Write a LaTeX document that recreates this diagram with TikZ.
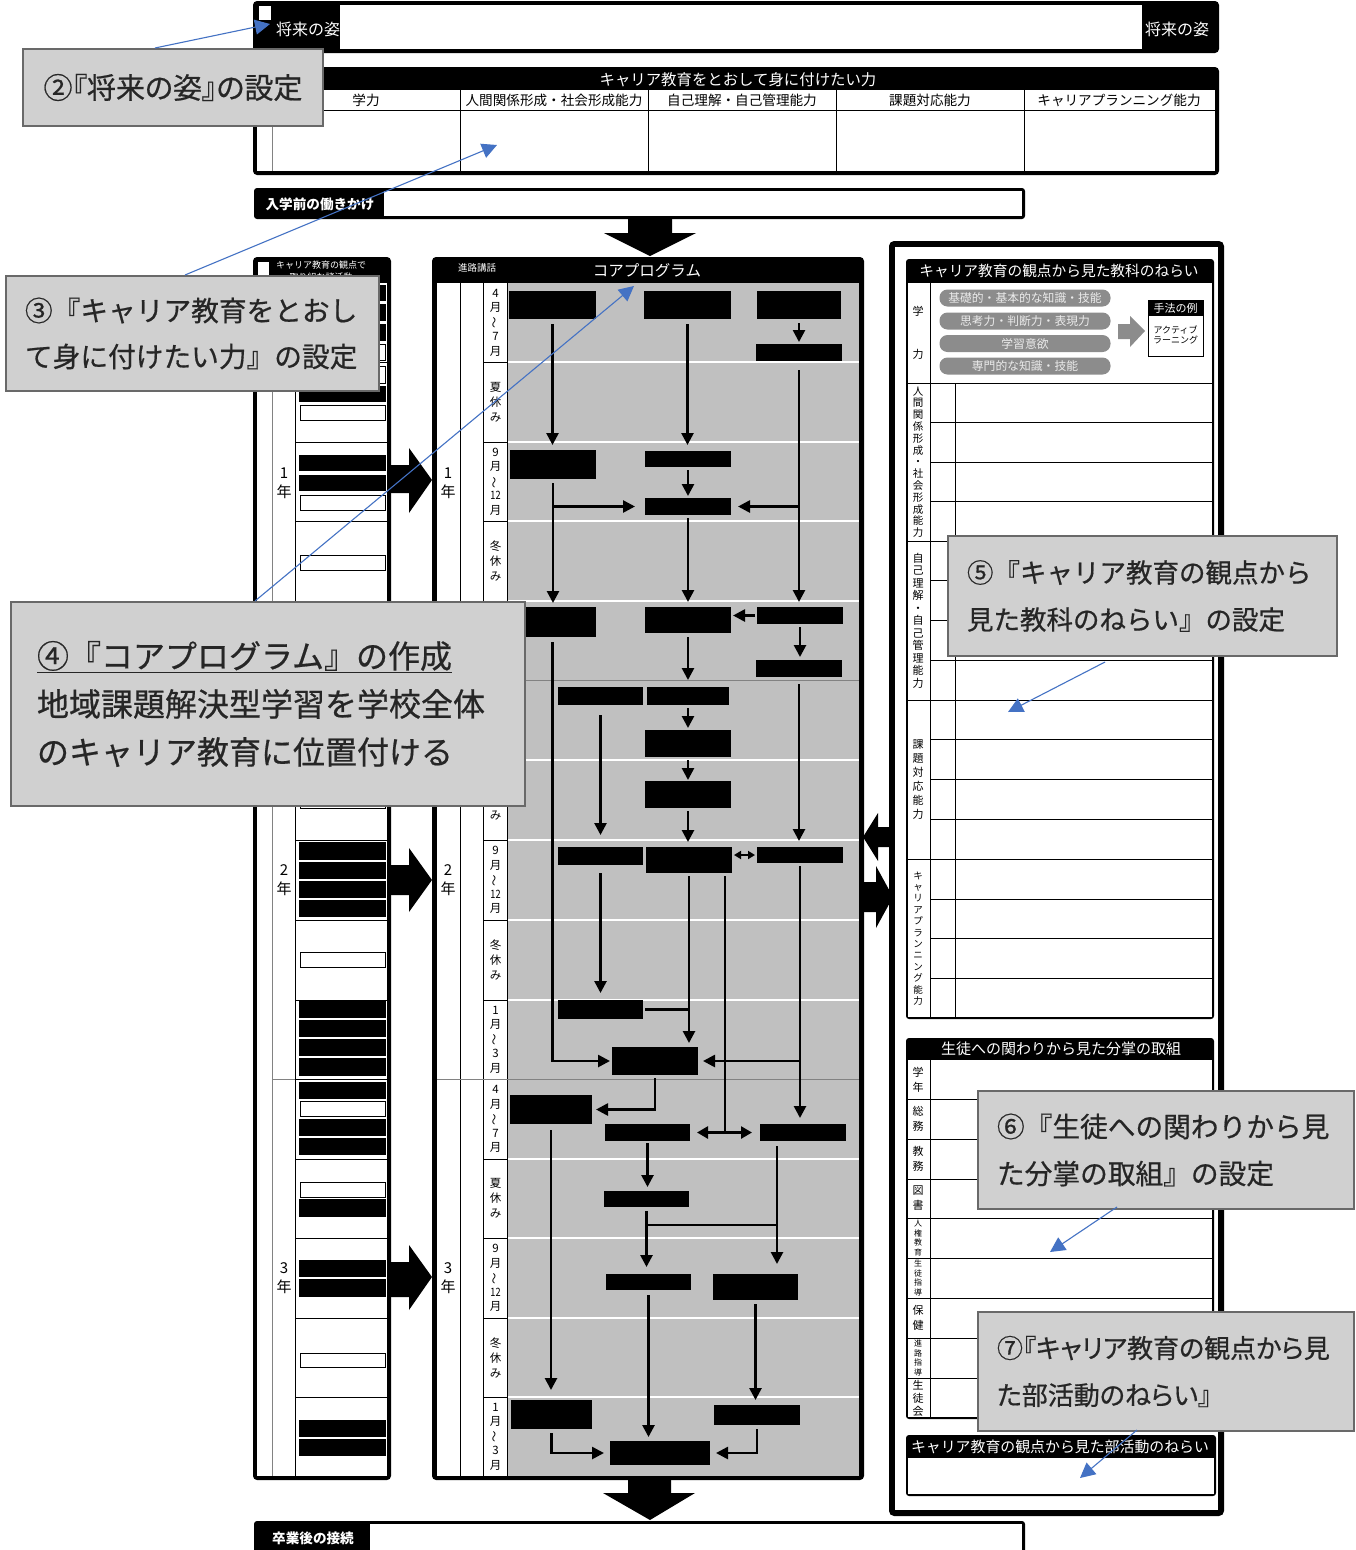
\documentclass[tikz,border=0pt]{standalone}
\usepackage{fontspec}
\usepackage{graphicx}
\setmainfont{Noto Sans CJK JP}
\newfontfamily\callfont{Noto Sans CJK JP}[FakeBold=0.6]
\newfontfamily\callpalt{Noto Sans CJK JP}[RawFeature=+palt, FakeBold=0.6]
\usetikzlibrary{arrows.meta,calc,fit}
\definecolor{coregray}{RGB}{192,192,192}
\definecolor{callgray}{RGB}{208,208,208}
\definecolor{callborder}{RGB}{105,105,105}
\definecolor{pillgray}{RGB}{140,140,140}
\definecolor{blueln}{RGB}{68,114,196}
\definecolor{yrline}{RGB}{130,130,130}
\makeatletter
\newcommand\vst[3]{\vbox{\fontsize{#1}{#2}\selectfont\baselineskip=#2\relax\lineskiplimit=-100pt\relax\lineskip=0pt\relax\@tfor\vs@c:=#3\do{\hbox to 16pt{\hss\vs@c\hss}}}}
\makeatother
\newcommand\wvd{\rotatebox[origin=c]{90}{～}}
\newcommand\moA{\vst{11.5pt}{14.5pt}{4月{\wvd}7月}}
\newcommand\moB{\vst{11.5pt}{15pt}{夏休み}}
\newcommand\moC{\vst{11.5pt}{14.5pt}{9月{\wvd}{\scalebox{.8}[1]{12}}月}}
\newcommand\moD{\vst{11.5pt}{15pt}{冬休み}}
\newcommand\moE{\vst{11.5pt}{14.5pt}{1月{\wvd}3月}}
\tikzset{
 fb/.style={fill=black, inner sep=0pt, outer sep=0pt, draw=none},
 flow/.style={line width=2.6pt, -{Triangle[length=12pt,width=12pt]}},
 fline/.style={line width=2.6pt},
 dflow/.style={line width=2pt, {Triangle[length=7pt,width=8pt]}-{Triangle[length=7pt,width=8pt]}},
 dflowb/.style={line width=2.6pt, {Triangle[length=11pt,width=12pt]}-{Triangle[length=11pt,width=12pt]}},
 wt/.style={text=white, inner sep=0pt},
 bt/.style={text=black, inner sep=0pt},
 thinl/.style={line width=0.9pt},
 callout/.style={fill=callgray, draw=callborder, line width=2pt, anchor=north west, inner ysep=0pt, text=black!85},
 bluearr/.style={draw=blueln, line width=1.1pt, -{Triangle[length=15pt,width=15pt]}},
 pill/.style={fill=pillgray, rounded corners=8pt, minimum width=171pt, minimum height=17pt, inner sep=0pt, text=white!92!black, font=\fontsize{11.8pt}{13pt}\selectfont},
}
\begin{document}
\begin{tikzpicture}[x=1pt,y=-1pt]
\useasboundingbox (0,0) rectangle (1356,1550);
\fill[white] (0,0) rectangle (1356,1550);

% ---------- top box: future image
\fill[rounded corners=4pt] (253,1) rectangle (1219,53);
\fill[white] (340,5) rectangle (1142,49);
\fill[white] (259,6) rectangle (271,20);
\node[wt, font=\fontsize{16pt}{18pt}\selectfont] (fs1) at (308,29) {将来の姿};
\node[wt, font=\fontsize{16pt}{18pt}\selectfont] (fs2) at (1177,29) {将来の姿};

% ---------- top box 2: abilities
\fill[rounded corners=4pt] (253,67) rectangle (1219,175);
\fill[white] (257,90) rectangle (1215,171);
\node[wt, font=\fontsize{15.4pt}{17pt}\selectfont] (ab0) at (738,80) {キャリア教育をとおして身に付けたい力};
\draw[thinl] (272,110) -- (1215,110);
\draw[line width=0.8pt, yrline] (272,90) -- (272,171);
\foreach \xx in {460,648,836,1024} \draw[thinl] (\xx,90) -- (\xx,171);
\node[bt, font=\fontsize{13.6pt}{15pt}\selectfont] (ab1) at (366,100) {学力};
\node[bt, font=\fontsize{13.6pt}{15pt}\selectfont] (ab2) at (554,100) {人間関係形成・社会形成能力};
\node[bt, font=\fontsize{13.6pt}{15pt}\selectfont] (ab3) at (742,100) {自己理解・自己管理能力};
\node[bt, font=\fontsize{13.6pt}{15pt}\selectfont] (ab4) at (930,100) {課題対応能力};
\node[bt, font=\fontsize{13.6pt}{15pt}\selectfont] (ab5) at (1119,100) {キャリアプランニング能力};

% ---------- entrance box
\fill[rounded corners=3pt] (254,188) rectangle (1025,219);
\fill[white] (384,191) rectangle (1022,216);
\node[wt, font=\bfseries\fontsize{13.6pt}{15pt}\selectfont] (ent) at (320,204) {入学前の働きかけ};
\fill (628,219) -- (672,219) -- (672,233) -- (696,233) -- (650,256) -- (604,233) -- (628,233) -- cycle;

% ---------- left column
\fill[rounded corners=4pt] (253,257) rectangle (391,1480);
\fill[white] (257,283) rectangle (387,1476);
\fill[white] (258,262) rectangle (269,276);
\node[wt, font=\fontsize{9pt}{10pt}\selectfont] (lh1) at (321,265) {キャリア教育の観点で};
\node[wt, font=\fontsize{9pt}{10pt}\selectfont] (lh2) at (321,277) {取り組む諸活動};
\draw[line width=0.8pt, yrline] (272,283) -- (272,1476);
\draw[thinl] (295,283) -- (295,1476);
\foreach \yy in {362,442,521,601,680,760,840,920,1000,1079,1159,1238,1318,1397} \draw[thinl] (295,\yy) -- (387,\yy);
\draw[line width=0.8pt, yrline] (272,680) -- (295,680);
\draw[line width=0.8pt, yrline] (272,1079) -- (295,1079);
\foreach \a/\b in {285/301,304/321,324/341,386/402,455/471,475/491,842/860,862/879,881/898,900/917,1001/1018,1020/1037,1039/1056,1058/1076,1082/1099,1119/1136,1138/1155,1199/1217,1260/1277,1279/1297,1420/1437,1439/1456}
  \fill (299,\a) rectangle (386,\b);
\foreach \a/\b in {344/360,366/383,405/420,495/510,555/570,792/808,952/967,1101/1116,1182/1197,1353/1367}
  \draw[line width=0.9pt] (300,\a) rectangle (385,\b);
% arrows left -> core
\fill (389,465) -- (409,465) -- (409,448) -- (432,480) -- (409,513) -- (409,493) -- (389,493) -- cycle;
\fill (389,865) -- (409,865) -- (409,848) -- (432,880) -- (409,912) -- (409,895) -- (389,895) -- cycle;
\fill (389,1262) -- (409,1262) -- (409,1245) -- (432,1277) -- (409,1310) -- (409,1297) -- (389,1297) -- cycle;

% ---------- core program
\fill[rounded corners=4pt] (432,257) rectangle (864,1480);
\fill[white] (437,283) rectangle (859,1476);
\fill[coregray] (507,283) rectangle (859,1476);
\node[wt, font=\fontsize{9.5pt}{10pt}\selectfont] (kh1) at (477,268) {進路講話};
\node[wt, font=\fontsize{15.5pt}{17pt}\selectfont] (kh2) at (647,271) {コアプログラム};
\draw[thinl] (460,283) -- (460,1476);
\draw[thinl] (483,283) -- (483,1476);
\draw[thinl] (507,283) -- (507,1476);
\foreach \yy in {362,442,521,601,760,840,920,1000,1159,1238,1318,1397} {
  \draw[thinl] (483,\yy) -- (507,\yy);
  \draw[white, line width=1.3pt] (508,\yy) -- (859,\yy);
}
\foreach \yy in {680,1079} \draw[line width=1pt, yrline] (437,\yy) -- (859,\yy);
\foreach \yc/\t [count=\i] in {322.5/\moA,402/\moB,481.5/\moC,561/\moD,640.5/\moE,720/\moA,800/\moB,880/\moC,960/\moD,1039.5/\moE,1119/\moA,1198.5/\moB,1278/\moC,1357.5/\moD,1436.5/\moE}
  \node[bt] (mon\i) at (495.5,\yc) {\t};
\node[bt] (ly1) at (284,483) {\vst{15pt}{19pt}{1年}};
\node[bt] (ly2) at (284,880) {\vst{15pt}{19pt}{2年}};
\node[bt] (ly3) at (284,1278) {\vst{15pt}{19pt}{3年}};
\node[bt] (cy1) at (448,483) {\vst{15pt}{19pt}{1年}};
\node[bt] (cy2) at (448,880) {\vst{15pt}{19pt}{2年}};
\node[bt] (cy3) at (448,1278) {\vst{15pt}{19pt}{3年}};

% flow boxes
\node[fb, fit={(509,291) (596,319)}] (A1) {};
\node[fb, fit={(644,291) (731,319)}] (B1) {};
\node[fb, fit={(757,291) (841,319)}] (C1) {};
\node[fb, fit={(756,344) (842,361)}] (C1b) {};
\node[fb, fit={(510,450) (596,479)}] (A2) {};
\node[fb, fit={(645,451) (731,467)}] (B2) {};
\node[fb, fit={(645,498) (731,515)}] (B3) {};
\node[fb, fit={(509,607) (596,637)}] (A3) {};
\node[fb, fit={(645,607) (731,633)}] (B4) {};
\node[fb, fit={(757,607) (843,624)}] (C3) {};
\node[fb, fit={(756,660) (842,677)}] (C4) {};
\node[fb, fit={(558,687) (643,705)}] (E1) {};
\node[fb, fit={(647,687) (729,705)}] (B5) {};
\node[fb, fit={(645,730) (731,757)}] (B6) {};
\node[fb, fit={(645,781) (731,808)}] (B7) {};
\node[fb, fit={(558,847) (643,865)}] (E2) {};
\node[fb, fit={(646,847) (732,873)}] (B8) {};
\node[fb, fit={(757,847) (843,863)}] (C5) {};
\node[fb, fit={(558,1000) (643,1019)}] (E3) {};
\node[fb, fit={(612,1047) (698,1075)}] (D) {};
\node[fb, fit={(510,1095) (592,1124)}] (G1) {};
\node[fb, fit={(605,1124) (690,1141)}] (H1) {};
\node[fb, fit={(760,1124) (846,1141)}] (F3) {};
\node[fb, fit={(604,1191) (689,1207)}] (H2) {};
\node[fb, fit={(606,1274) (691,1290)}] (H3) {};
\node[fb, fit={(713,1274) (798,1300)}] (F4) {};
\node[fb, fit={(511,1400) (592,1429)}] (G2) {};
\node[fb, fit={(714,1405) (800,1425)}] (F5) {};
\node[fb, fit={(610,1441) (710,1465)}] (J) {};

% flow connectors
\draw[flow, shorten <=4pt, shorten >=2pt] (C1.south) -- (C1b.north);
\draw[flow, shorten <=5pt, shorten >=5pt] (A1.south) -- (A1.south |- A2.north);
\draw[flow, shorten <=5pt, shorten >=6pt] (B1.south) -- (B1.south |- B2.north);
\draw[flow, shorten <=3pt, shorten >=2pt] (B2.south) -- (B2.south |- B3.north);
\draw[flow, shorten <=9pt, shorten >=5pt] (C1b.south) -- (C1b.south |- C3.north);
\draw[flow, shorten >=7pt] (C1b.south |- B3.east) -- (B3.east);
\draw[flow, shorten <=4pt, shorten >=4pt] (A2.south) -- (A2.south |- A3.north);
\draw[flow, shorten >=10pt] (A2.south |- B3.west) -- (B3.west);
\draw[flow, shorten <=3pt, shorten >=5pt] (B3.south) -- (B3.south |- B4.north);
\draw[flow, shorten <=2pt, shorten >=2pt] (C3.west) -- (C3.west -| B4.east);
\draw[flow, shorten <=3pt, shorten >=3pt] (C3.south) -- (C3.south |- C4.north);
\draw[flow, shorten <=4pt, shorten >=7pt] (B4.south) -- (B4.south |- B5.north);
\draw[flow, shorten <=5pt, shorten >=2pt] (A3.south) |- (D.west);
\draw[flow, shorten <=7pt, shorten >=6pt] (C4.south) -- (C4.south |- C5.north);
\draw[flow, shorten <=10pt, shorten >=12pt] (E1.south) -- (E1.south |- E2.north);
\draw[flow, shorten <=3pt, shorten >=2pt] (B5.south) -- (B5.south |- B6.north);
\draw[flow, shorten <=3pt, shorten >=1pt] (B6.south) -- (B6.south |- B7.north);
\draw[flow, shorten <=3pt, shorten >=5pt] (B7.south) -- (B7.south |- B8.north);
\draw[dflow, shorten <=2pt, shorten >=2pt] (B8.east |- C5.west) -- (C5.west);
\draw[flow, shorten <=8pt, shorten >=7pt] (E2.south) -- (E2.south |- E3.north);
\draw[fline, shorten <=2pt] (E3.east) -- (E3.east -| B8.south);
\draw[flow, shorten <=3pt, shorten >=4pt] (B8.south) -- (B8.south |- D.north);
\draw[flow, shorten <=3pt, shorten >=6pt] (C5.south) -- (C5.south |- F3.north);
\draw[flow, shorten >=5pt] (C5.south |- D.east) -- (D.east);
\coordinate (v725) at ($(B8.south)+(36,0)$);
\draw[fline, shorten <=3pt] (v725) -- (v725 |- H1.east);
\draw[dflowb, shorten <=7pt, shorten >=8pt] (H1.east) -- (F3.west);
\draw[flow, shorten <=3pt, shorten >=4pt] (D.south) |- (G1.east);
\draw[flow, shorten <=6pt, shorten >=10pt] (G1.south) -- (G1.south |- G2.north);
\draw[flow, shorten <=2pt, shorten >=4pt] (H1.south) -- (H1.south |- H2.north);
\draw[flow, shorten <=4pt, shorten >=7pt] (H2.south) -- (H2.south |- H3.north);
\coordinate (f3d) at ($(F3.south)+(-26,0)$);
\draw[flow, shorten <=5pt, shorten >=10pt] (f3d) -- (f3d |- F4.north);
\coordinate (jn) at ($(H2.south)+(0,18)$);
\draw[fline] (jn) -- (jn -| f3d);
\draw[flow, shorten <=5pt, shorten >=4pt] (H3.south) -- (H3.south |- J.north);
\draw[flow, shorten <=4pt, shorten >=5pt] (F4.south) -- (F4.south |- F5.north);
\draw[flow, shorten <=4pt, shorten >=6pt] (G2.south) |- (J.west);
\draw[flow, shorten <=4pt, shorten >=6pt] (F5.south) |- (J.east);

% arrows core <-> right
\fill (893,827) -- (878,827) -- (878,813) -- (863,837) -- (878,861) -- (878,847) -- (893,847) -- cycle;
\fill (862,882) -- (876,882) -- (876,866) -- (893,897) -- (876,928) -- (876,912) -- (862,912) -- cycle;

% bottom arrow and box
\fill (628,1480) -- (671,1480) -- (671,1493) -- (695,1493) -- (650,1520) -- (603,1493) -- (628,1493) -- cycle;
\fill[rounded corners=3pt] (254,1521) rectangle (1025,1600);
\fill[white] (370,1524) rectangle (1022,1600);
\node[wt, font=\bfseries\fontsize{13.6pt}{15pt}\selectfont] (grad) at (313,1538) {卒業後の接続};

% ---------- right column
\fill[rounded corners=5pt] (889,241) rectangle (1224,1516);
\fill[white] (895,247) rectangle (1218,1510);
% panel 1
\fill[rounded corners=3pt] (906,259) rectangle (1214,1019);
\fill[white] (908,283) rectangle (1212,1017);
\node[wt, font=\fontsize{14.7pt}{16pt}\selectfont] (p1h) at (1059,271) {キャリア教育の観点から見た教科のねらい};
\draw[thinl] (930,283) -- (930,1017);
\draw[thinl] (955,383) -- (955,1017);
\foreach \yy in {383,541,700,859} \draw[thinl] (908,\yy) -- (1212,\yy);
\foreach \yy in {422,462,501,580,620,660,739,779,819,899,938,978} \draw[thinl] (930,\yy) -- (1212,\yy);
\node[bt, font=\fontsize{11pt}{12pt}\selectfont] (gk1) at (918,311) {学};
\node[bt, font=\fontsize{11pt}{12pt}\selectfont] (gk2) at (918,354) {力};
\node[bt] (r1) at (918,462) {\vst{10.5pt}{11.8pt}{人間関係形成・社会形成能力}};
\node[bt] (r2) at (918,620.5) {\vst{11pt}{12.5pt}{自己理解・自己管理能力}};
\node[bt] (r3) at (918,779.5) {\vst{11pt}{14pt}{課題対応能力}};
\node[bt] (r4) at (918,938.5) {\vst{9.5pt}{11.4pt}{キャリアプランニング能力}};
\node[pill] (pl1) at (1025,298) {基礎的・基本的な知識・技能};
\node[pill] (pl2) at (1025,321) {思考力・判断力・表現力};
\node[pill] (pl3) at (1025,343.5) {学習意欲};
\node[pill] (pl4) at (1025,366) {専門的な知識・技能};
\fill[pillgray] (1118,324) -- (1130,324) -- (1130,316) -- (1145,331) -- (1130,347) -- (1130,339) -- (1118,339) -- cycle;
\draw[line width=1pt] (1148,300) rectangle (1203,356);
\fill (1148,300) rectangle (1203,316);
\node[wt, font=\fontsize{11pt}{12pt}\selectfont] (te1) at (1175.5,308) {手法の例};
\node[bt, align=center, font=\fontsize{9pt}{10.5pt}\selectfont] (te2) at (1175.5,335) {アクティブ\\ラーニング};
% panel 2
\fill[rounded corners=3pt] (906,1038) rectangle (1214,1419);
\fill[white] (908,1060) rectangle (1212,1417);
\node[wt, font=\fontsize{15pt}{16pt}\selectfont] (p2h) at (1061,1049) {生徒への関わりから見た分掌の取組};
\draw[thinl] (930,1060) -- (930,1417);
\foreach \yy in {1099,1139,1179,1218,1258,1298,1338,1378} \draw[thinl] (908,\yy) -- (1212,\yy);
\node[bt] (q1) at (918,1079.5) {\vst{11pt}{15pt}{学年}};
\node[bt] (q2) at (918,1119) {\vst{11pt}{15pt}{総務}};
\node[bt] (q3) at (918,1159) {\vst{11pt}{15pt}{教務}};
\node[bt] (q4) at (918,1198.5) {\vst{11pt}{15pt}{図書}};
\node[bt] (q5) at (918,1238) {\vst{8pt}{9.8pt}{人権教育}};
\node[bt] (q6) at (918,1278) {\vst{8pt}{9.8pt}{生徒指導}};
\node[bt] (q7) at (918,1318) {\vst{11pt}{15pt}{保健}};
\node[bt] (q8) at (918,1358) {\vst{8pt}{9.8pt}{進路指導}};
\node[bt] (q9) at (918,1398) {\vst{11pt}{13pt}{生徒会}};
% panel 3
\fill[rounded corners=3pt] (906,1435) rectangle (1216,1496);
\fill[white] (908,1458) rectangle (1214,1494);
\node[wt, font=\fontsize{14.9pt}{16pt}\selectfont] (p3h) at (1060,1447) {キャリア教育の観点から見た部活動のねらい};

% ---------- callouts
\node[callout, minimum width=300pt, minimum height=77pt, font=\callpalt\fontsize{29pt}{32pt}\selectfont] (c2) at (22,48) {②『将来の姿』の設定};
\node[callout, minimum width=373pt, minimum height=115pt, text width=335pt, inner xsep=19pt, align=left, font=\callfont\fontsize{27.7pt}{46pt}\selectfont] (c3) at (5,275) {③『キャリア教育をとおし\\て身に付けたい力』の設定};
\node[callout, minimum width=514pt, minimum height=204pt, text width=462pt, inner xsep=26pt, align=left, font=\callfont\fontsize{32pt}{48pt}\selectfont] (c4) at (10,601) {\underline{④『コアプログラム』の作成}\\地域課題解決型学習を学校全体\\のキャリア教育に位置付ける};
\node[callout, minimum width=389pt, minimum height=120pt, text width=351pt, inner xsep=19pt, align=left, font=\callfont\fontsize{26.5pt}{47pt}\selectfont] (c5) at (947,535) {⑤『キャリア教育の観点から\\見た教科のねらい』の設定};
\node[callout, minimum width=376pt, minimum height=118pt, text width=338pt, inner xsep=19pt, align=left, font=\callfont\fontsize{27.7pt}{47pt}\selectfont] (c6) at (977,1090) {⑥『生徒への関わりから見\\た分掌の取組』の設定};
\node[callout, minimum width=376pt, minimum height=119pt, text width=338pt, inner xsep=19pt, align=left, font=\callpalt\fontsize{26pt}{47pt}\selectfont] (c7) at (977,1311) {⑦『キャリア教育の観点から見\\た部活動のねらい』};

% ---------- blue pointers
\coordinate (t2) at (270,24);
\draw[bluearr] ($(c2.north west)+(133,0)$) -- (t2);
\coordinate (t3) at (497,145);
\draw[bluearr] ($(c3.north west)+(180,0)$) -- (t3);
\coordinate (t4) at (634,286);
\draw[bluearr] ($(c4.north west)+(245,0)$) -- (t4);
\coordinate (t5) at (1008,712);
\draw[bluearr] ($(c5.south west)+(158,5)$) -- (t5);
\coordinate (t6) at (1050,1252);
\draw[bluearr] ($(c6.south west)+(140,-3)$) -- (t6);
\coordinate (t7) at (1080,1478);
\draw[bluearr] ($(c7.south west)+(160,-2)$) -- (t7);
\end{tikzpicture}
\end{document}
